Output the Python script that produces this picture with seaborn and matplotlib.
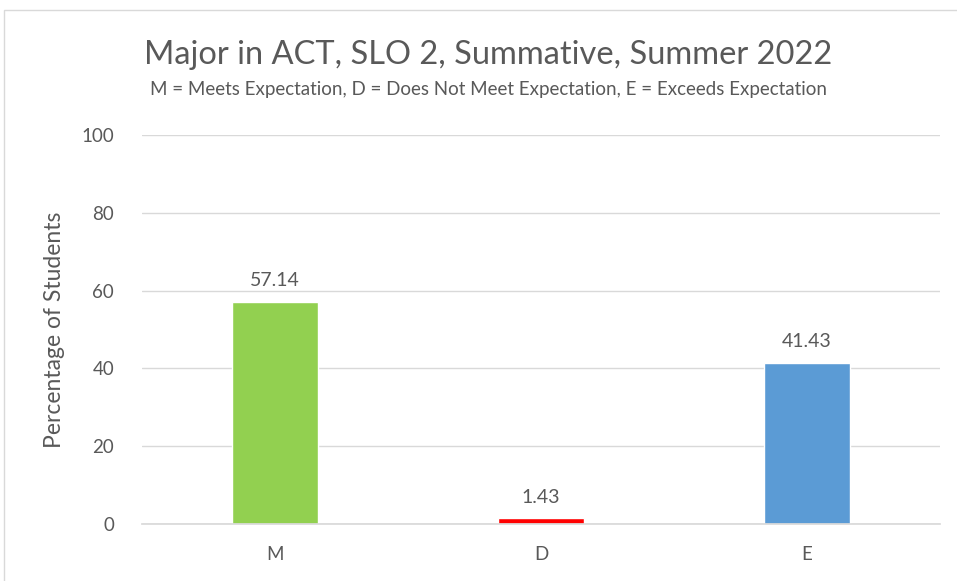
import matplotlib
matplotlib.use("Agg")
import matplotlib.pyplot as plt
import seaborn as sns
import pandas as pd
from matplotlib.patches import Rectangle

categories = ["M", "D", "E"]
values = [57.14, 1.43, 41.43]
colors = ["#92D050", "#FF0000", "#5B9BD5"]
yticks = [0, 20, 40, 60, 80, 100]

sns.set_theme(style="white")
plt.rcParams["font.family"] = ["Lato", "DejaVu Sans"]
txt = "#595959"

df = pd.DataFrame({"cat": categories, "val": values})
fig = plt.figure(figsize=(9.57, 5.81), dpi=100)
ax = fig.add_axes([142/957, 1-524/581, (940-142)/957, (524-135)/581])
sns.barplot(data=df, x="cat", y="val", hue="cat", palette=colors, width=0.32,
            legend=False, ax=ax, saturation=1)
ax.set_ylim(0, 100)
ax.set_yticks(yticks)
ax.set_xlim(-0.5, 2.5)
ax.grid(axis="y", color="#D9D9D9", linewidth=1)
ax.set_axisbelow(True)
for s in ["top", "right", "left"]:
    ax.spines[s].set_visible(False)
ax.spines["bottom"].set_color("#D9D9D9")
ax.tick_params(axis="both", length=0, labelsize=13.5, colors=txt)
ax.tick_params(axis="y", pad=20)
ax.tick_params(axis="x", pad=16)
ax.set_xlabel("")
ax.set_ylabel("Percentage of Students", fontsize=16.5, color=txt, labelpad=12)
for c in ax.containers:
    ax.bar_label(c, labels=[f"{v:.2f}" for v in c.datavalues], padding=9, fontsize=14, color=txt)

fig.text(488/957, 1-55/581, "Major in ACT, SLO 2, Summative, Summer 2022", ha="center", va="center",
         fontsize=23.5, color=txt)
fig.text(488/957, 1-90/581, "M = Meets Expectation, D = Does Not Meet Expectation, E = Exceeds Expectation",
         ha="center", va="center", fontsize=13.5, color=txt)
fig.patches.append(Rectangle((4/957, -0.1), 1.2, 1-10/581+0.1, transform=fig.transFigure,
                             fill=False, edgecolor="#D9D9D9", linewidth=1))
fig.savefig("out.png", dpi=100)
